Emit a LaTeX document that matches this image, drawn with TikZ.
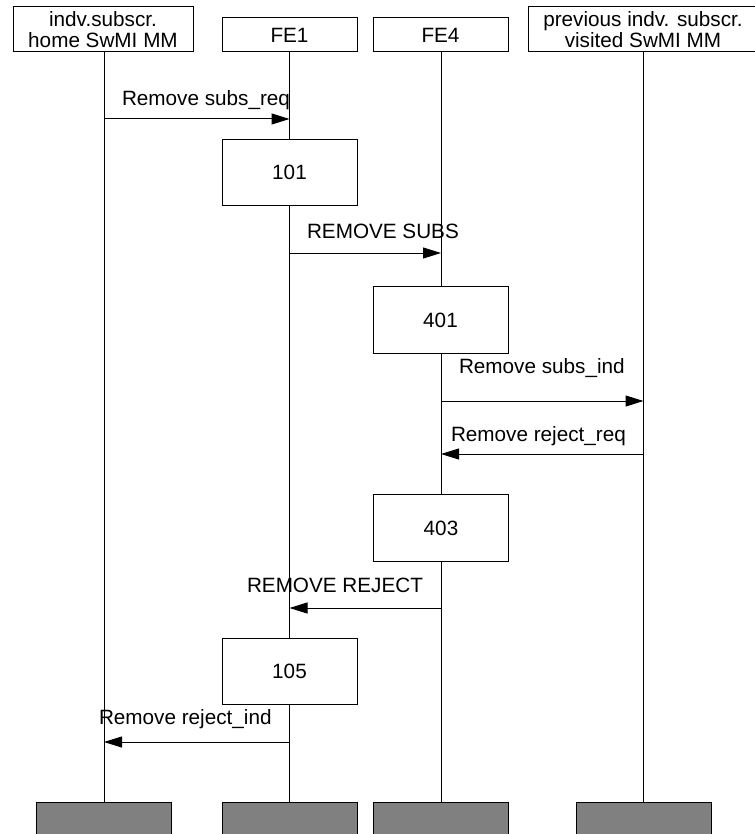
\documentclass[tikz,border=0pt]{standalone}
\usepackage{fontspec}
\setmainfont{Liberation Sans}
\usetikzlibrary{arrows.meta}
\begin{document}
\begin{tikzpicture}[x=1pt,y=-1pt,
  every node/.style={inner sep=0pt,outer sep=0pt,font=\fontsize{20.7}{21}\selectfont},
  hbox/.style={draw,line width=1pt,fill=white,align=center,minimum width=#1},
  pbox/.style={draw,line width=1pt,fill=white,minimum width=135pt,minimum height=66.5pt},
  endbox/.style={draw,line width=1pt,fill=black!50,minimum width=135pt,minimum height=38pt},
  life/.style={line width=1pt},
  msg/.style={line width=1pt,-{Triangle[length=18pt,width=11pt]}},
  lbl/.style={anchor=base west}]
\useasboundingbox (0,0) rectangle (754,834);
% headers
\node[hbox=180pt,minimum height=45pt] (h1) at (103,29.5) {indv.subscr.\\home SwMI MM};
\node[hbox=135pt,minimum height=34pt] (h2) at (289.5,35) {FE1};
\node[hbox=135pt,minimum height=34pt] (h3) at (440.5,35) {FE4};
\node[hbox=230pt,minimum height=45pt] (h4) at (643,29.5) {previous indv. subscr.\\visited SwMI MM};
% end boxes
\node[endbox] (e1) at (103.5,821) {};
\node[endbox] (e2) at (289.5,821) {};
\node[endbox] (e3) at (441,821) {};
\node[endbox] (e4) at (644,821) {};
% lifelines
\coordinate (t1) at (104,52); \coordinate (b1) at (104,802);
\coordinate (t2) at (289.5,52); \coordinate (b2) at (289.5,802);
\coordinate (t3) at (441,52); \coordinate (b3) at (441,802);
\coordinate (t4) at (643.5,52); \coordinate (b4) at (643.5,802);
\draw[life] (t1) -- (b1);
\draw[life] (t2) -- (b2);
\draw[life] (t3) -- (b3);
\draw[life] (t4) -- (b4);
% process boxes
\node[pbox] (p101) at (289.5,172.5) {101};
\node[pbox] (p401) at (440.5,320) {401};
\node[pbox] (p403) at (441,528) {403};
\node[pbox] (p105) at (289.5,671.5) {105};
% message points
\coordinate (m1a) at (104,119);   \coordinate (m1b) at (289.5,119);
\coordinate (m2a) at (289.5,253); \coordinate (m2b) at (441,253);
\coordinate (m3a) at (441,401);   \coordinate (m3b) at (643.5,401);
\coordinate (m4a) at (643.5,454); \coordinate (m4b) at (441,454);
\coordinate (m5a) at (441,608);   \coordinate (m5b) at (289.5,608);
\coordinate (m6a) at (289.5,742); \coordinate (m6b) at (104,742);
\draw[msg] (m1a) -- (m1b);
\draw[msg] (m2a) -- (m2b);
\draw[msg] (m3a) -- (m3b);
\draw[msg] (m4a) -- (m4b);
\draw[msg] (m5a) -- (m5b);
\draw[msg] (m6a) -- (m6b);
% labels
\node[lbl] (l1) at (122,106) {Remove subs\_req};
\node[lbl] (l2) at (307,238.5) {REMOVE SUBS};
\node[lbl] (l3) at (459,373) {Remove subs\_ind};
\node[lbl] (l4) at (451,441) {Remove reject\_req};
\node[lbl] (l5) at (247,592) {REMOVE REJECT};
\node[lbl] (l6) at (99,724) {Remove reject\_ind};
\end{tikzpicture}
\end{document}
